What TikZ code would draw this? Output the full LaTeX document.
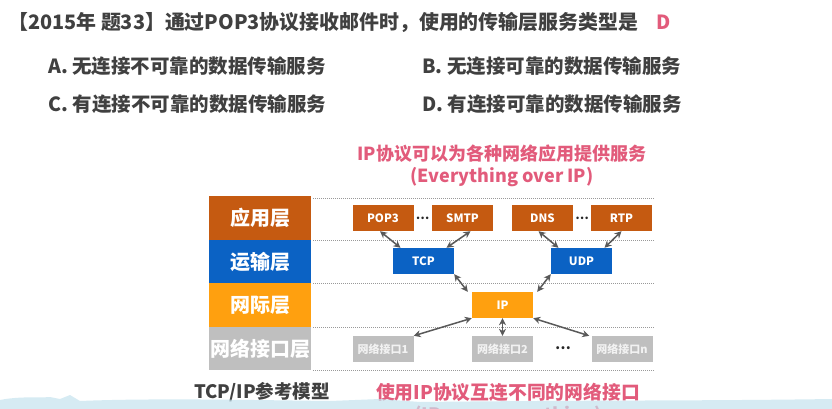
\documentclass[tikz,border=0pt]{standalone}
\usepackage{fontspec}
\setmainfont{Noto Sans CJK SC}
\usetikzlibrary{arrows.meta}
\definecolor{txt}{HTML}{404040}
\definecolor{pinkred}{HTML}{E25B7B}
\definecolor{appc}{HTML}{C55A11}
\definecolor{trc}{HTML}{0B62C4}
\definecolor{ipc}{HTML}{FFA00F}
\definecolor{nic}{HTML}{BFBFBF}
\definecolor{arr}{HTML}{595959}
\definecolor{wave}{HTML}{C5E3EF}
\tikzset{
  fs/.style={font=\fontsize{#1}{#1}\selectfont\bfseries},
  question/.style={fs=19.5, text=txt, anchor=west, inner sep=0},
  layer/.style={fs=20, text=white, minimum width=102pt, inner sep=0},
  proto/.style={fs=11.5, text=white, minimum width=61pt, minimum height=26pt, inner sep=0},
  sep/.style={draw=black!40, dash pattern=on 1pt off 1pt, line width=0.6pt},
  dbl/.style={draw=arr, line width=1.5pt, {Stealth[length=7pt,width=7pt]}-{Stealth[length=7pt,width=7pt]}},
  dots/.style={fs=12, text=black!85, inner sep=0}
}
\begin{document}
\begin{tikzpicture}[x=1pt,y=-1pt]
\useasboundingbox[fill=white] (0,0) rectangle (832,409);
% question
\node[question, fs=19.9] (q) at (8,22) {【2015年 题33】通过POP3协议接收邮件时，使用的传输层服务类型是};
\node[question, text=pinkred] (ans) at (656,22) {D};
\node[question] (oa) at (48,66) {A. 无连接不可靠的数据传输服务};
\node[question] (ob) at (422,66) {B. 无连接可靠的数据传输服务};
\node[question] (oc) at (48,104) {C. 有连接不可靠的数据传输服务};
\node[question] (od) at (422,104) {D. 有连接可靠的数据传输服务};
% title
\node[fs=18, text=pinkred, align=center, inner sep=0] (title) at (502,166) {IP协议可以为各种网络应用提供服务\\[4pt](Everything over IP)};
% layer boxes
\node[layer, fill=appc, minimum height=44pt] (L1) at (260,218) {应用层};
\node[layer, fill=trc, minimum height=43pt] (L2) at (260,261.5) {运输层};
\node[layer, fill=ipc, minimum height=44pt] (L3) at (260,305) {网际层};
\node[layer, fill=nic, minimum height=43pt] (L4) at (260,348.5) {网络接口层};
% separators
\coordinate (s0a) at (313,198); \coordinate (s0b) at (655,198);
\coordinate (s1a) at (313,240); \coordinate (s1b) at (655,240);
\coordinate (s2a) at (313,283); \coordinate (s2b) at (655,283);
\coordinate (s3a) at (313,327); \coordinate (s3b) at (655,327);
\coordinate (s4a) at (313,370); \coordinate (s4b) at (655,370);
\foreach \i in {0,...,4} {\draw[sep] (s\i a) -- (s\i b);}
% application protocols
\node[proto, fill=appc] (pop3) at (383,218) {POP3};
\node[proto, fill=appc] (smtp) at (462.5,218) {SMTP};
\node[proto, fill=appc] (dns) at (542.5,218) {DNS};
\node[proto, fill=appc] (rtp) at (621.5,218) {RTP};
\node[dots] (d1) at (422.5,218) {…};
\node[dots] (d2) at (582,218) {…};
% transport
\node[proto, fill=trc] (tcp) at (423.5,261) {TCP};
\node[proto, fill=trc] (udp) at (581.5,261) {UDP};
% ip
\node[proto, fill=ipc] (ip) at (502.5,305) {IP};
% network interfaces
\node[proto, fill=nic, text=white!95!black, fs=11] (n1) at (383,349) {网络接口1};
\node[proto, fill=nic, text=white!95!black, fs=11] (n2) at (502.5,349) {网络接口2};
\node[proto, fill=nic, text=white!95!black, fs=11] (nn) at (622,349) {网络接口n};
\node[dots, fs=14] (d3) at (563,348) {…};
% arrows
\draw[dbl] ([xshift=-3pt]pop3.south) -- ([xshift=-23pt]tcp.north);
\draw[dbl] ([xshift=8pt]smtp.south) -- ([xshift=23pt]tcp.north);
\draw[dbl] ([xshift=-4pt]dns.south) -- ([xshift=-23pt]udp.north);
\draw[dbl] ([xshift=0pt]rtp.south) -- ([xshift=23pt]udp.north);
\draw[dbl] (tcp.south east) -- ([xshift=-4pt]ip.north west);
\draw[dbl] (udp.south west) -- ([xshift=4pt]ip.north east);
\draw[dbl] (ip.south west) -- (n1.north east);
\draw[dbl] (ip.south) -- (n2.north);
\draw[dbl] (ip.south east) -- ([xshift=-2pt]nn.north west);
% bottom captions
\node[fs=18.5, text=txt, inner sep=0] (cap1) at (262,392) {TCP/IP参考模型};
\node[fs=18.8, text=pinkred, inner sep=0] (cap2) at (508,392) {使用IP协议互连不同的网络接口};
\node[fs=18.5, text=pinkred, inner sep=0] (cap3) at (508,416) {(IP over everything)};
% bottom wave overlay
\fill[wave, opacity=0.7] (0,409) -- (0,400) .. controls (20,396) and (40,398) .. (50,397)
  -- (60,399) -- (70,395) -- (80,401) .. controls (150,398) and (250,400) .. (330,401)
  -- (380,399) -- (420,402) .. controls (600,400) and (700,401) .. (832,399) -- (832,409) -- cycle;
\end{tikzpicture}
\end{document}
